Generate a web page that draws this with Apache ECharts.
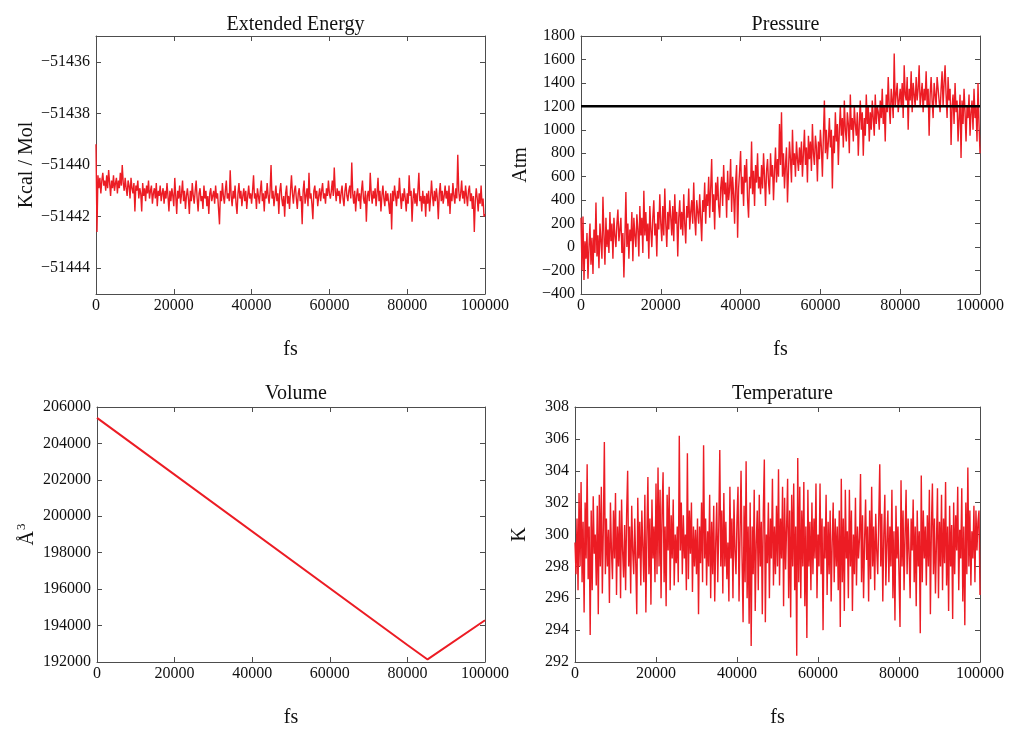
<!DOCTYPE html>
<html>
<head>
<meta charset="utf-8">
<script src="https://cdn.jsdelivr.net/npm/echarts@6/dist/echarts.min.js"></script>
<style>
html,body{margin:0;padding:0;background:#fff;}
#chart{width:1010px;height:729px;}
</style>
</head>
<body>
<div id="chart"></div>
<script>
// ---- data ----
const timeMax = 100000; // fs
const titles = ['Extended Energy', 'Pressure', 'Volume', 'Temperature'];

const energy = [
-51439.2,
-51442.6, -51440.4, -51440.9, -51440.5, -51441.1, -51440.6, -51440.3, -51440.8, -51440.6, -51441.0, -51440.4, -51440.9, -51440.2, -51440.7, -51441.2, -51440.6, -51440.9, -51440.4, -51441.0, -51440.7,
-51440.5, -51441.1, -51440.6, -51440.9, -51440.3, -51440.8, -51440.0, -51440.7, -51441.0, -51440.5, -51440.9, -51441.2, -51440.6, -51440.8, -51441.3, -51440.5, -51440.9, -51441.1, -51440.7, -51441.8,
-51440.8, -51441.0, -51440.6, -51441.3, -51440.9, -51441.1, -51441.8, -51440.7, -51441.2, -51440.9, -51441.4, -51440.8, -51441.1, -51440.6, -51441.3, -51441.0, -51440.8, -51441.5, -51441.1, -51440.9,
-51441.3, -51440.7, -51441.6, -51441.0, -51441.2, -51440.8, -51441.4, -51441.1, -51440.9, -51441.5, -51441.0, -51441.3, -51440.7, -51441.2, -51441.8, -51441.0, -51441.4, -51440.9, -51441.2, -51441.6,
-51440.5, -51441.2, -51441.9, -51441.0, -51441.3, -51440.8, -51441.5, -51441.1, -51440.6, -51441.4, -51441.0, -51441.7, -51441.2, -51440.9, -51441.3, -51441.9, -51441.0, -51441.4, -51440.7, -51441.2,
-51441.5, -51441.0, -51440.6, -51441.3, -51441.8, -51441.1, -51440.9, -51441.4, -51441.2, -51441.7, -51440.8, -51441.3, -51441.0, -51441.6, -51441.2, -51441.9, -51441.1, -51440.9, -51441.4, -51441.2,
-51441.0, -51441.5, -51440.8, -51441.3, -51441.1, -51441.7, -51442.3, -51441.0, -51441.4, -51440.7, -51441.2, -51441.5, -51441.0, -51440.6, -51441.3, -51441.1, -51441.4, -51440.2, -51441.2, -51441.6,
-51441.0, -51441.3, -51440.8, -51441.5, -51441.9, -51441.1, -51440.7, -51441.3, -51441.0, -51441.6, -51441.2, -51440.9, -51441.4, -51441.0, -51441.7, -51441.2, -51440.8, -51441.3, -51441.1, -51441.5,
-51441.0, -51440.4, -51441.3, -51441.1, -51441.7, -51440.9, -51441.2, -51441.5, -51441.0, -51440.6, -51441.4, -51441.1, -51441.8, -51441.0, -51441.3, -51440.7, -51441.2, -51441.5, -51441.0, -51440.0,
-51441.3, -51441.0, -51441.6, -51441.2, -51440.8, -51441.4, -51441.1, -51441.9, -51441.0, -51440.7, -51441.3, -51441.6, -51441.2, -51442.0, -51441.1, -51440.8, -51441.5, -51441.2, -51441.7, -51441.0,
-51440.4, -51441.1, -51441.5, -51441.0, -51440.8, -51441.3, -51441.7, -51441.1, -51440.9, -51441.4, -51441.2, -51442.3, -51441.0, -51440.6, -51441.5, -51441.2, -51440.9, -51441.6, -51440.3, -51441.3,
-51441.1, -51441.5, -51442.1, -51441.0, -51440.8, -51441.3, -51441.0, -51441.6, -51441.2, -51440.9, -51441.4, -51441.0, -51440.7, -51441.3, -51441.1, -51441.5, -51440.9, -51441.2, -51440.6, -51441.1,
-51441.3, -51441.0, -51440.6, -51441.2, -51440.1, -51441.0, -51441.4, -51440.9, -51441.2, -51441.0, -51441.5, -51441.1, -51440.8, -51441.3, -51441.6, -51441.0, -51440.7, -51441.2, -51441.4, -51441.0,
-51440.8, -51441.3, -51439.9, -51441.1, -51441.5, -51441.0, -51441.8, -51441.2, -51440.9, -51441.4, -51441.1, -51441.7, -51441.0, -51440.6, -51441.3, -51441.5, -51441.0, -51442.2, -51441.2, -51441.0,
-51441.4, -51440.3, -51441.1, -51441.5, -51441.0, -51441.3, -51440.9, -51441.6, -51441.1, -51440.5, -51441.4, -51441.0, -51441.8, -51441.2, -51440.8, -51441.3, -51441.6, -51441.0, -51441.4, -51441.1,
-51441.5, -51441.9, -51441.1, -51442.5, -51441.0, -51441.4, -51440.8, -51441.2, -51441.6, -51441.0, -51441.3, -51440.5, -51441.2, -51441.7, -51441.1, -51441.4, -51440.9, -51441.3, -51441.8, -51441.1,
-51441.5, -51440.4, -51441.2, -51441.0, -51442.2, -51441.3, -51440.9, -51441.5, -51441.1, -51441.6, -51441.0, -51440.3, -51441.4, -51441.2, -51441.8, -51441.0, -51441.5, -51441.2, -51442.0, -51441.1,
-51441.5, -51441.0, -51441.8, -51441.3, -51440.6, -51441.2, -51441.6, -51441.0, -51441.4, -51440.9, -51441.3, -51442.1, -51441.1, -51440.7, -51441.4, -51441.0, -51441.5, -51441.2, -51440.8, -51441.3,
-51441.0, -51441.6, -51440.8, -51441.9, -51441.1, -51441.4, -51440.7, -51441.2, -51441.5, -51440.9, -51441.3, -51439.6, -51441.0, -51441.4, -51441.1, -51440.6, -51441.3, -51441.0, -51441.5, -51440.8,
-51441.2, -51441.6, -51441.0, -51440.8, -51441.4, -51441.1, -51441.7, -51441.2, -51442.6, -51441.4, -51440.9, -51441.3, -51441.8, -51441.1, -51441.5, -51440.8, -51441.6, -51441.3, -51442.0, -51441.9
];
const energyTicks = [-51444, -51442, -51440, -51438, -51436];

const pressure = [
250,
-200, 260, -280, 50, -100, 120, -270, 0, 200, -150, 80, -230, 150, -50, 380, -80, 100, -180, 200, 50,
-100, 430, 100, -150, 250, 0, 150, -50, 300, 50, 200, -100, 250, 100, 0, 200, 320, 50, 150, 250,
-50, 120, -260, 80, 470, 0, 200, -100, 150, 50, 300, -120, 250, 100, 0, 280, 150, -80, 350, 100,
250, -50, 480, 100, 300, 50, 200, -100, 350, 150, 0, 250, 400, 100, 200, -80, 300, 150, 450, 200,
50, 350, 100, 500, 200, 0, 300, 150, 400, 250, 100, 350, 50, 450, 200, 300, -80, 250, 400, 150,
300, 100, 450, 200, 30, 350, 250, 500, 150, 300, 400, 200, 550, 250, 100, 400, 300, 200, 450, 250,
50, 400, 300, 550, 200, 450, 350, 600, 250, 500, 750, 300, 450, 150, 550, 400, 600, 350, 250, 500,
600, 350, 700, 450, 550, 250, 650, 400, 500, 750, 300, 600, 450, 200, 550, 700, 80, 500, 650, 820,
450, 600, 350, 700, 550, 750, 400, 250, 600, 500, 900, 450, 650, 350, 700, 550, 800, 500, 600, 450,
700, 500, 800, 600, 350, 650, 750, 550, 450, 800, 600, 700, 400, 650, 850, 550, 750, 600, 1050, 700,
1150, 600, 800, 500, 700, 850, 380, 650, 900, 750, 550, 1000, 700, 800, 600, 900, 750, 650, 850, 700,
900, 600, 800, 1000, 700, 850, 550, 950, 750, 900, 650, 1050, 800, 700, 950, 850, 560, 900, 750, 1000,
850, 600, 950, 1250, 800, 1000, 750, 900, 1100, 850, 1000, 500, 950, 800, 1150, 900, 1050, 700, 1000, 1200,
950, 1100, 850, 1250, 1000, 900, 1150, 1050, 800, 1300, 1000, 1100, 900, 1200, 1050, 950, 1150, 780, 1050, 1250,
1000, 1150, 780, 1100, 950, 1300, 1050, 1200, 900, 1150, 1000, 1250, 1100, 950, 1300, 1050, 1200, 1150, 1000, 1250,
1100, 1350, 1050, 1200, 900, 1300, 1150, 1450, 1200, 1050, 1350, 1250, 1100, 1650, 1200, 1300, 1400, 1150, 1250, 1350,
1200, 1400, 1100, 1550, 1300, 1250, 1450, 1000, 1350, 1250, 1500, 1150, 1400, 1300, 1200, 1450, 1250, 1350, 1550, 1200,
1300, 1400, 1150, 1350, 1250, 1500, 1200, 1350, 950, 1300, 1450, 1250, 1100, 1400, 1300, 1200, 1450, 1350, 1250, 1150,
1350, 1500, 1200, 1400, 1550, 1300, 1100, 1450, 1250, 1350, 870, 1200, 1300, 1050, 1400, 1150, 1250, 900, 1100, 1300,
760, 1250, 1050, 1350, 1150, 900, 1200, 1100, 1300, 950, 1150, 1250, 1000, 1350, 1100, 1200, 900, 1400, 1050, 800
];
const pressureTarget = 1200;

const volumeTime = [0, 80000, 85200, 100000];
const volume = [205400, 192930, 192140, 194290];

const temperature = [
299.5,
297.5, 301.0, 296.5, 302.6, 298.0, 303.3, 297.0, 300.8, 295.1, 302.0, 298.5, 304.4, 297.2, 300.5, 293.7, 301.5, 296.5, 302.4, 298.8, 300.0,
296.8, 301.8, 295.0, 302.5, 298.0, 303.0, 296.3, 300.5, 305.8, 297.5, 301.0, 298.0, 300.3, 295.7, 302.0, 299.0, 297.2, 301.5, 298.5, 302.6,
296.2, 300.5, 298.0, 301.5, 296.0, 302.2, 299.0, 297.3, 300.6, 296.5, 301.3, 304.0, 298.0, 300.5, 296.3, 301.8, 299.0, 297.5, 301.0, 298.2,
295.0, 302.3, 298.5, 300.8, 296.8, 301.5, 299.2, 297.0, 302.5, 295.1, 300.0, 303.6, 297.5, 301.0, 295.6, 302.2, 298.5, 300.5, 297.0, 303.2,
297.5, 304.2, 298.0, 302.8, 296.0, 301.5, 303.9, 297.0, 300.5, 295.5, 302.5, 299.0, 303.0, 296.5, 301.2, 298.5, 302.2, 296.8, 300.0, 298.2,
300.5, 297.0, 306.2, 299.0, 302.0, 297.5, 301.2, 298.5, 300.0, 296.5, 305.1, 297.2, 301.5, 298.8, 302.0, 296.4, 300.5, 298.0, 300.3, 297.5,
301.0, 295.0, 300.5, 298.2, 302.0, 297.0, 305.6, 298.5, 301.0, 296.8, 300.2, 298.0, 302.5, 296.0, 300.8, 297.5, 301.8, 295.8, 299.5, 302.0,
297.0, 300.5, 305.3, 298.0, 301.5, 296.3, 302.6, 298.0, 300.8, 297.2, 299.5, 295.8, 303.0, 298.5, 301.0, 296.0, 302.2, 299.0, 297.5, 301.0,
303.0, 295.8, 300.0, 304.0, 298.5, 294.5, 301.8, 297.0, 304.6, 296.0, 300.5, 294.4, 302.0, 293.0, 300.5, 297.5, 302.8, 295.2, 299.5, 301.5,
296.5, 302.5, 298.0, 300.8, 295.0, 301.5, 304.7, 294.5, 300.0, 298.2, 302.0, 296.0, 301.0, 298.5, 303.5, 296.8, 300.5, 297.5, 301.8, 298.0,
304.1, 296.8, 301.0, 298.5, 303.0, 295.5, 302.3, 297.8, 300.5, 303.5, 296.0, 301.5, 294.8, 302.5, 298.0, 303.2, 296.5, 300.5, 292.4, 304.8,
297.0, 303.0, 296.0, 301.5, 298.0, 303.3, 295.5, 300.5, 293.5, 302.8, 298.0, 300.8, 296.5, 302.0, 297.5, 301.0, 298.5, 303.2, 296.0, 300.0,
298.0, 303.2, 297.5, 301.0, 294.0, 300.5, 298.5, 302.5, 296.2, 300.8, 297.5, 301.5, 295.8, 299.5, 302.0, 297.0, 301.0, 298.0, 300.5, 296.5,
301.5, 294.2, 303.5, 297.0, 301.0, 295.2, 302.8, 298.5, 300.2, 296.0, 302.8, 298.0, 301.5, 295.2, 300.0, 297.5, 302.3, 296.8, 300.5, 298.5,
299.8, 303.8, 297.0, 301.2, 296.0, 299.6, 302.2, 298.4, 300.5, 295.8, 301.5, 297.2, 303.0, 298.0, 300.5, 296.5, 301.3, 299.0, 297.5, 301.0,
304.4, 298.0, 301.3, 295.8, 300.0, 302.5, 296.8, 299.5, 301.5, 297.0, 300.5, 298.0, 302.8, 296.0, 300.2, 294.6, 301.8, 298.5, 300.5, 297.5,
294.2, 303.4, 298.0, 301.5, 296.5, 300.0, 302.8, 297.5, 301.0, 298.8, 296.0, 301.0, 299.0, 302.2, 297.0, 300.5, 295.5, 301.5, 298.0, 300.2,
293.8, 303.7, 297.0, 301.5, 298.5, 300.5, 296.8, 301.2, 298.0, 302.8, 295.0, 300.5, 303.2, 297.5, 301.0, 296.3, 299.5, 302.9, 296.0, 300.8,
298.0, 302.5, 296.5, 301.0, 298.2, 303.3, 296.8, 300.5, 295.2, 301.8, 298.0, 300.6, 294.7, 302.0, 297.5, 301.2, 299.0, 303.0, 296.5, 300.3,
298.5, 302.9, 295.8, 300.5, 294.3, 302.0, 297.5, 304.2, 298.0, 301.5, 296.8, 300.2, 298.5, 301.8, 297.0, 301.5, 299.0, 300.8, 301.5, 296.2
];

// ---- helpers ----
function sampled(vals) {
  const n = vals.length;
  return vals.map((v, i) => [i * timeMax / (n - 1), v]);
}
const FONT = 'Liberation Serif';
const AX = '#4d4d4d';
const RED = '#ec1c24';
const plain = v => String(v).replace('-', '\u2212');

function axisBase(o) {
  return Object.assign({
    type: 'value',
    axisLine: { show: true, onZero: false, lineStyle: { color: AX, width: 1 } },
    axisTick: { show: true, inside: true, length: 5, lineStyle: { color: AX, width: 1 } },
    axisLabel: { show: false },
    splitLine: { show: false },
    axisPointer: { show: false }
  }, o);
}

const grids = [
  { left: 96, top: 36, width: 389, height: 258 },
  { left: 581, top: 36, width: 399, height: 258 },
  { left: 97, top: 407, width: 388, height: 257 },
  { left: 575, top: 407, width: 405, height: 257 }
];

const yCfg = [
  { min: -51445, max: -51435, custom: energyTicks, name: 'Kcal / Mol', gap: 54 },
  { min: -400, max: 1800, interval: 200, name: 'Atm', gap: 50 },
  { min: 192000, max: 206000, interval: 2000, name: '{a|\u00C5}{b|3}', gap: 57 },
  { min: 292, max: 308, interval: 2, name: 'K', gap: 45 }
];

const xAxis = [], yAxis = [];
const labelStyle = { show: true, fontFamily: FONT, fontSize: 16, color: '#111' };
const nameStyle = { fontFamily: FONT, fontSize: 20, color: '#111',
  rich: { a: { fontFamily: FONT, fontSize: 20, color: '#111' },
          b: { fontFamily: FONT, fontSize: 13, color: '#111', verticalAlign: 'top', padding: [0, 0, 12, 1] } } };

grids.forEach((g, gi) => {
  xAxis.push(axisBase({ gridIndex: gi, position: 'bottom', min: 0, max: timeMax, interval: 20000,
    axisLabel: Object.assign({}, labelStyle, { margin: 4, formatter: plain }),
    name: 'fs', nameLocation: 'middle', nameGap: 46, nameTextStyle: nameStyle }));
  xAxis.push(axisBase({ gridIndex: gi, position: 'top', min: 0, max: timeMax, interval: 20000 }));
  const c = yCfg[gi];
  const lab = Object.assign({}, labelStyle, { margin: 6, formatter: plain });
  const tick = { show: true, inside: true, length: 5, lineStyle: { color: AX, width: 1 } };
  if (c.custom) { lab.customValues = c.custom; tick.customValues = c.custom; }
  const common = { gridIndex: gi, min: c.min, max: c.max };
  if (c.interval) common.interval = c.interval;
  yAxis.push(axisBase(Object.assign({}, common, { position: 'left', axisLabel: lab, axisTick: tick,
    name: c.name, nameLocation: 'middle', nameGap: c.gap, nameRotate: 90, nameTextStyle: nameStyle })));
  yAxis.push(axisBase(Object.assign({}, common, { position: 'right', axisTick: tick })));
});

const title = grids.map((g, gi) => ({
  text: titles[gi], left: g.left + g.width / 2, top: gi < 2 ? 10 : 379, textAlign: 'center',
  textStyle: { fontFamily: FONT, fontSize: 20, fontWeight: 'normal', color: '#111' }
}));

function line(data, xi, yi, w, color) {
  return { type: 'line', xAxisIndex: xi, yAxisIndex: yi, data: data, showSymbol: false, symbol: 'none',
    lineStyle: { color: color, width: w }, itemStyle: { color: color }, animation: false, silent: true, z: 2 };
}

const series = [
  line(sampled(energy), 0, 0, 1.4, RED),
  line(sampled(pressure), 2, 2, 1.4, RED),
  Object.assign(line([[0, pressureTarget], [timeMax, pressureTarget]], 2, 2, 2.5, '#000'), { z: 3 }),
  line(volumeTime.map((t, i) => [t, volume[i]]), 4, 4, 2, RED),
  line(sampled(temperature), 6, 6, 1.4, RED)
];

const chart = echarts.init(document.getElementById('chart'), null, { renderer: 'canvas' });
chart.setOption({ animation: false, backgroundColor: '#fff', title, grid: grids, xAxis, yAxis, series });
</script>
</body>
</html>
